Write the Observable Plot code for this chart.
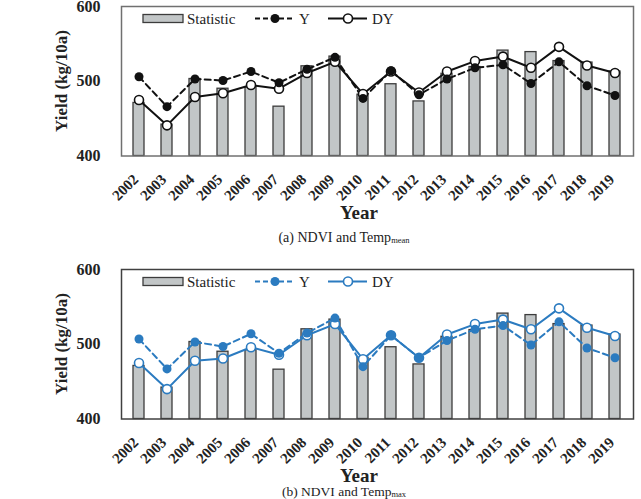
<!DOCTYPE html>
<html>
<head>
<meta charset="utf-8">
<script src="https://cdn.jsdelivr.net/npm/d3@7"></script>
<script src="https://cdn.jsdelivr.net/npm/@observablehq/plot@0.6"></script>
<style>
  body { margin: 0; background: #fff; }
  #fig { position: relative; width: 641px; height: 499px; overflow: hidden;
         font-family: "Liberation Serif", "Times New Roman", serif; color: #222; }
  .panel { position: absolute; left: 0; width: 641px; height: 240px; }
  .panel > svg { position: absolute; left: 0; top: 0; }
  .ytitle { position: absolute; font-weight: bold; font-size: 17px; white-space: nowrap; line-height: 1;
            transform: translate(-50%, -50%) rotate(-90deg); }
  .xtitle { position: absolute; font-weight: bold; font-size: 19px; white-space: nowrap; line-height: 1;
            transform: translate(-50%, -50%); }
  .caption { position: absolute; font-size: 14px; white-space: nowrap; line-height: 1;
             transform: translate(-50%, -50%); }
  .caption.b { font-size: 13.5px; }
  .caption sub { font-size: 8.5px; vertical-align: -1px; line-height: 1; }
</style>
</head>
<body>
<div id="fig"></div>
<script>
// Rice yield per year: official statistic vs. modelled yield (Y) and detrended yield (DY)
const years = ["2002", "2003", "2004", "2005", "2006", "2007", "2008", "2009", "2010",
               "2011", "2012", "2013", "2014", "2015", "2016", "2017", "2018", "2019"];
const statistic = [471, 442, 503, 490, 492, 466, 520, 533, 482, 496, 473, 510, 519, 541, 539, 527, 525, 513];

// (a) NDVI and mean temperature
const yMeanTemp  = [506, 466, 503, 501, 513, 498, 516, 532, 477, 514, 482, 503, 518, 522, 497, 526, 494, 481];
const dyMeanTemp = [475, 441, 479, 484, 495, 490, 511, 526, 483, 513, 485, 513, 527, 533, 518, 546, 521, 511];

// (b) NDVI and the second temperature variable
const yTemp2  = [507, 467, 503, 497, 514, 488, 515, 535, 470, 512, 482, 505, 520, 525, 499, 530, 495, 482];
const dyTemp2 = [475, 440, 478, 481, 496, 486, 512, 527, 480, 512, 482, 513, 527, 533, 520, 548, 522, 511];

const seriesNames = ["Statistic", "Y", "DY"];
const yDomain = [400, 600];
const yTicks = [400, 500, 600];

const barFill = "#c2c6c7";
const barStroke = "#3c3c3c";
const serif = "'Liberation Serif', 'Times New Roman', serif";

function chart(Y, DY, color, frameColor) {
  const rows = years.map((year, i) => ({year, statistic: statistic[i], y: Y[i], dy: DY[i]}));
  return Plot.plot({
    width: 641,
    height: 230,
    marginTop: 4,
    marginBottom: 76.5,
    marginLeft: 121,
    marginRight: 8,
    x: {type: "band", domain: years, paddingInner: 0.6, paddingOuter: 0.3},
    y: {domain: yDomain},
    style: {fontFamily: serif, background: "white", color: "#222", overflow: "visible"},
    marks: [
      Plot.barY(rows, {x: "year", y1: yDomain[0], y2: "statistic",
                       fill: barFill, stroke: barStroke, strokeWidth: 1.3}),
      Plot.line(rows, {x: "year", y: "dy", stroke: color, strokeWidth: 2}),
      Plot.line(rows, {x: "year", y: "y", stroke: color, strokeWidth: 2, strokeDasharray: "6,4"}),
      Plot.dot(rows, {x: "year", y: "dy", r: 4.5, stroke: color, strokeWidth: 1.6, fill: "white"}),
      Plot.dot(rows, {x: "year", y: "y", r: 4.5, fill: color}),
      Plot.frame({stroke: frameColor, strokeWidth: 1.5}),
      Plot.axisY({ticks: yTicks, tickSize: 0, tickPadding: 21, label: null,
                  fontSize: 16, fontWeight: "bold"}),
      Plot.axisX({tickSize: 0, tickPadding: 16, tickRotate: -45, label: null,
                  fontSize: 15, fontWeight: "bold", dx: -3, dy: 5})
    ]
  });
}

function legend(color) {
  const svg = d3.create("svg")
    .attr("width", 641).attr("height", 30)
    .style("font-family", serif).style("font-size", "15px");
  const cy = 16.5;
  // Statistic swatch
  svg.append("rect").attr("x", 143).attr("y", cy - 4).attr("width", 40).attr("height", 8)
    .attr("fill", barFill).attr("stroke", barStroke).attr("stroke-width", 1.3);
  svg.append("text").attr("x", 187).attr("y", cy + 5).attr("fill", "#222").text(seriesNames[0]);
  // Y swatch
  svg.append("line").attr("x1", 255).attr("x2", 295).attr("y1", cy).attr("y2", cy)
    .attr("stroke", color).attr("stroke-width", 2).attr("stroke-dasharray", "5,3");
  svg.append("circle").attr("cx", 275).attr("cy", cy).attr("r", 4.5).attr("fill", color);
  svg.append("text").attr("x", 299).attr("y", cy + 5).attr("fill", "#222").text(seriesNames[1]);
  // DY swatch
  svg.append("line").attr("x1", 328).attr("x2", 367).attr("y1", cy).attr("y2", cy)
    .attr("stroke", color).attr("stroke-width", 2);
  svg.append("circle").attr("cx", 348).attr("cy", cy).attr("r", 4.5)
    .attr("fill", "white").attr("stroke", color).attr("stroke-width", 1.6);
  svg.append("text").attr("x", 372).attr("y", cy + 5).attr("fill", "#222").text(seriesNames[2]);
  return svg.node();
}

function panel(top, Y, DY, color, frameColor, captionHtml, captionTop, captionClass) {
  const div = document.createElement("div");
  div.className = "panel";
  div.style.top = top + "px";
  div.appendChild(chart(Y, DY, color, frameColor));
  const lg = legend(color);
  lg.style.position = "absolute"; lg.style.left = "0"; lg.style.top = "0";
  div.appendChild(lg);

  const yt = document.createElement("div");
  yt.className = "ytitle"; yt.style.left = "61px"; yt.style.top = "79px";
  yt.textContent = "Yield (kg/10a)";
  div.appendChild(yt);

  const xt = document.createElement("div");
  xt.className = "xtitle"; xt.style.left = "359px"; xt.style.top = "210px";
  xt.textContent = "Year";
  div.appendChild(xt);

  const cap = document.createElement("div");
  cap.className = "caption " + captionClass; cap.style.left = "344px"; cap.style.top = captionTop + "px";
  cap.innerHTML = captionHtml;
  div.appendChild(cap);
  return div;
}

const fig = document.getElementById("fig");
fig.appendChild(panel(1.5, yMeanTemp, dyMeanTemp, "#111111", "#707070",
  "(a) NDVI and Temp<sub>mean</sub>", 236, "a"));
fig.appendChild(panel(264.8, yTemp2, dyTemp2, "#2b7bc0", "#404040",
  "(b) NDVI and Temp<sub>max</sub>", 227, "b"));
</script>
</body>
</html>
